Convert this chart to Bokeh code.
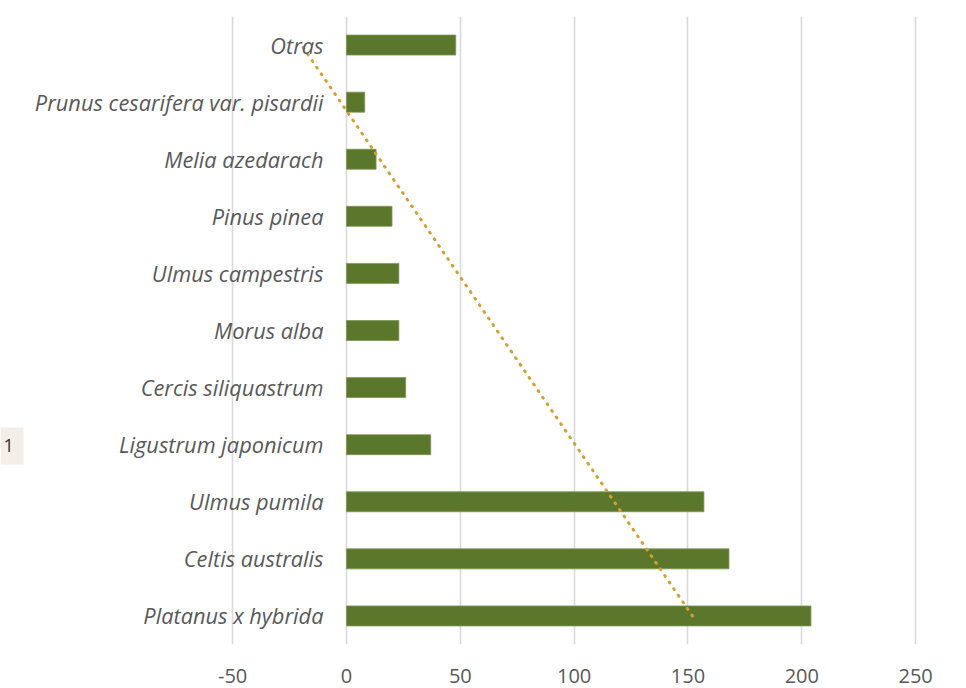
import numpy as np
from bokeh.plotting import figure
from bokeh.models import ColumnDataSource, FixedTicker, Range1d, BoxAnnotation, Label
from bokeh.core.properties import value
from bokeh.embed import file_html
from bokeh.resources import INLINE

# ---- data (bottom to top) ----
species = ["Platanus x hybrida", "Celtis australis", "Ulmus pumila",
           "Ligustrum japonicum", "Cercis siliquastrum", "Morus alba",
           "Ulmus campestris", "Pinus pinea", "Melia azedarach",
           "Prunus cesarifera var. pisardii", "Otras"]
counts = [204, 168, 157, 37, 26, 23, 23, 20, 13, 8, 48]
x_ticks = [-50, 0, 50, 100, 150, 200, 250]

pos = list(range(1, len(species) + 1))
src = ColumnDataSource(dict(pos=pos, count=counts, species=species))

# linear trendline (as in Excel: categories indexed 1..n)
slope, intercept = np.polyfit(pos, counts, 1)
trend_x = [slope * pos[0] + intercept, slope * pos[-1] + intercept]
trend_y = [pos[0], pos[-1]]

FONT = "Open Sans"
GREY = "#595959"
X0, X1 = -151.97, 265.3

p = figure(width=950, height=688, output_backend="svg", toolbar_location=None,
           x_range=Range1d(X0, X1), y_range=Range1d(0.5, 11.5),
           y_axis_location=None, min_border_left=0, min_border_right=0,
           min_border_top=16, min_border_bottom=44)
p.outline_line_color = None
p.background_fill_color = "white"
p.border_fill_color = "white"

p.xaxis.ticker = FixedTicker(ticks=x_ticks)
p.xaxis.major_label_overrides = {t: str(t) for t in x_ticks}
p.xaxis.axis_line_color = None
p.xaxis.major_tick_line_color = None
p.xaxis.minor_tick_line_color = None
p.xaxis.major_label_text_font = FONT
p.xaxis.major_label_text_font_size = "20px"
p.xaxis.major_label_text_color = GREY
p.xaxis.major_label_standoff = 18

p.xgrid.ticker = FixedTicker(ticks=x_ticks)
p.xgrid.grid_line_color = "#D9D9D9"
p.xgrid.grid_line_width = 1.6
p.ygrid.grid_line_color = None

p.add_layout(BoxAnnotation(left=X0, right=-141.87, bottom=3.65, top=4.30,
                           fill_color="#F3EFE8", fill_alpha=1, line_color=None,
                           level="underlay"))
p.add_layout(Label(x=X0, y=3.98, text="1", x_offset=3, text_align="left",
                   text_baseline="middle", text_font=FONT,
                   text_font_size="18px", text_color="#333333"))

p.hbar(y="pos", left=0, right="count", height=0.35, source=src,
       fill_color="#5B772B", line_color="#7E9757", line_width=0.8)

p.line(trend_x, trend_y, line_color="#D1A135", line_width=3,
       line_dash="1 7", line_cap="round")

p.text(x=0, y="pos", text="species", source=src, x_offset=-23,
       text_align="right", text_baseline="middle",
       text_font=value(FONT), text_font_style="italic",
       text_font_size="21.8px", text_color=GREY)

open("out.html", "w").write(file_html(p, INLINE))
